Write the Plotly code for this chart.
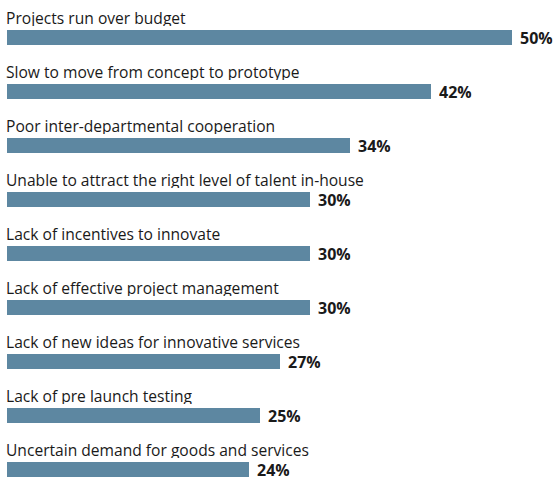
import plotly.graph_objects as go

categories = [
    "Projects run over budget",
    "Slow to move from concept to prototype",
    "Poor inter-departmental cooperation",
    "Unable to attract the right level of talent in-house",
    "Lack of incentives to innovate",
    "Lack of effective project management",
    "Lack of new ideas for innovative services",
    "Lack of pre launch testing",
    "Uncertain demand for goods and services",
]
values = [50, 42, 34, 30, 30, 30, 27, 25, 24]
value_labels = [f"{v}%" for v in values]

positions = list(range(len(categories)))
bar_color = "#5d87a1"
text_font = "Open Sans"

fig = go.Figure(
    go.Bar(
        x=values,
        y=positions,
        orientation="h",
        width=0.278,
        marker=dict(color=bar_color, line=dict(width=0)),
        hoverinfo="skip",
    )
)

annotations = []
for pos, cat, v, lab in zip(positions, categories, values, value_labels):
    # category caption above each bar
    annotations.append(dict(
        x=0, y=pos, xref="x", yref="y", text=cat, showarrow=False,
        xanchor="left", yanchor="middle", yshift=19.5, xshift=-2,
        borderpad=0, height=16, valign="middle",
        font=dict(family=text_font, size=15.6, color="#1a1a1a"),
    ))
    # value label at the end of the bar
    annotations.append(dict(
        x=v, y=pos, xref="x", yref="y", text=f"<b>{lab}</b>", showarrow=False,
        xanchor="left", yanchor="middle", yshift=0, xshift=7,
        borderpad=0, height=14, valign="middle",
        font=dict(family=text_font, size=16, color="#1a1a1a"),
    ))

fig.update_layout(
    width=558, height=480,
    margin=dict(l=7, r=0, t=0, b=0),
    paper_bgcolor="white", plot_bgcolor="white",
    showlegend=False,
    bargap=0,
    xaxis=dict(range=[0, 551 / 10.1], visible=False, fixedrange=True),
    yaxis=dict(range=[8.1944, -0.6944], visible=False, fixedrange=True),
    annotations=annotations,
)

fig.write_html("out.html")
